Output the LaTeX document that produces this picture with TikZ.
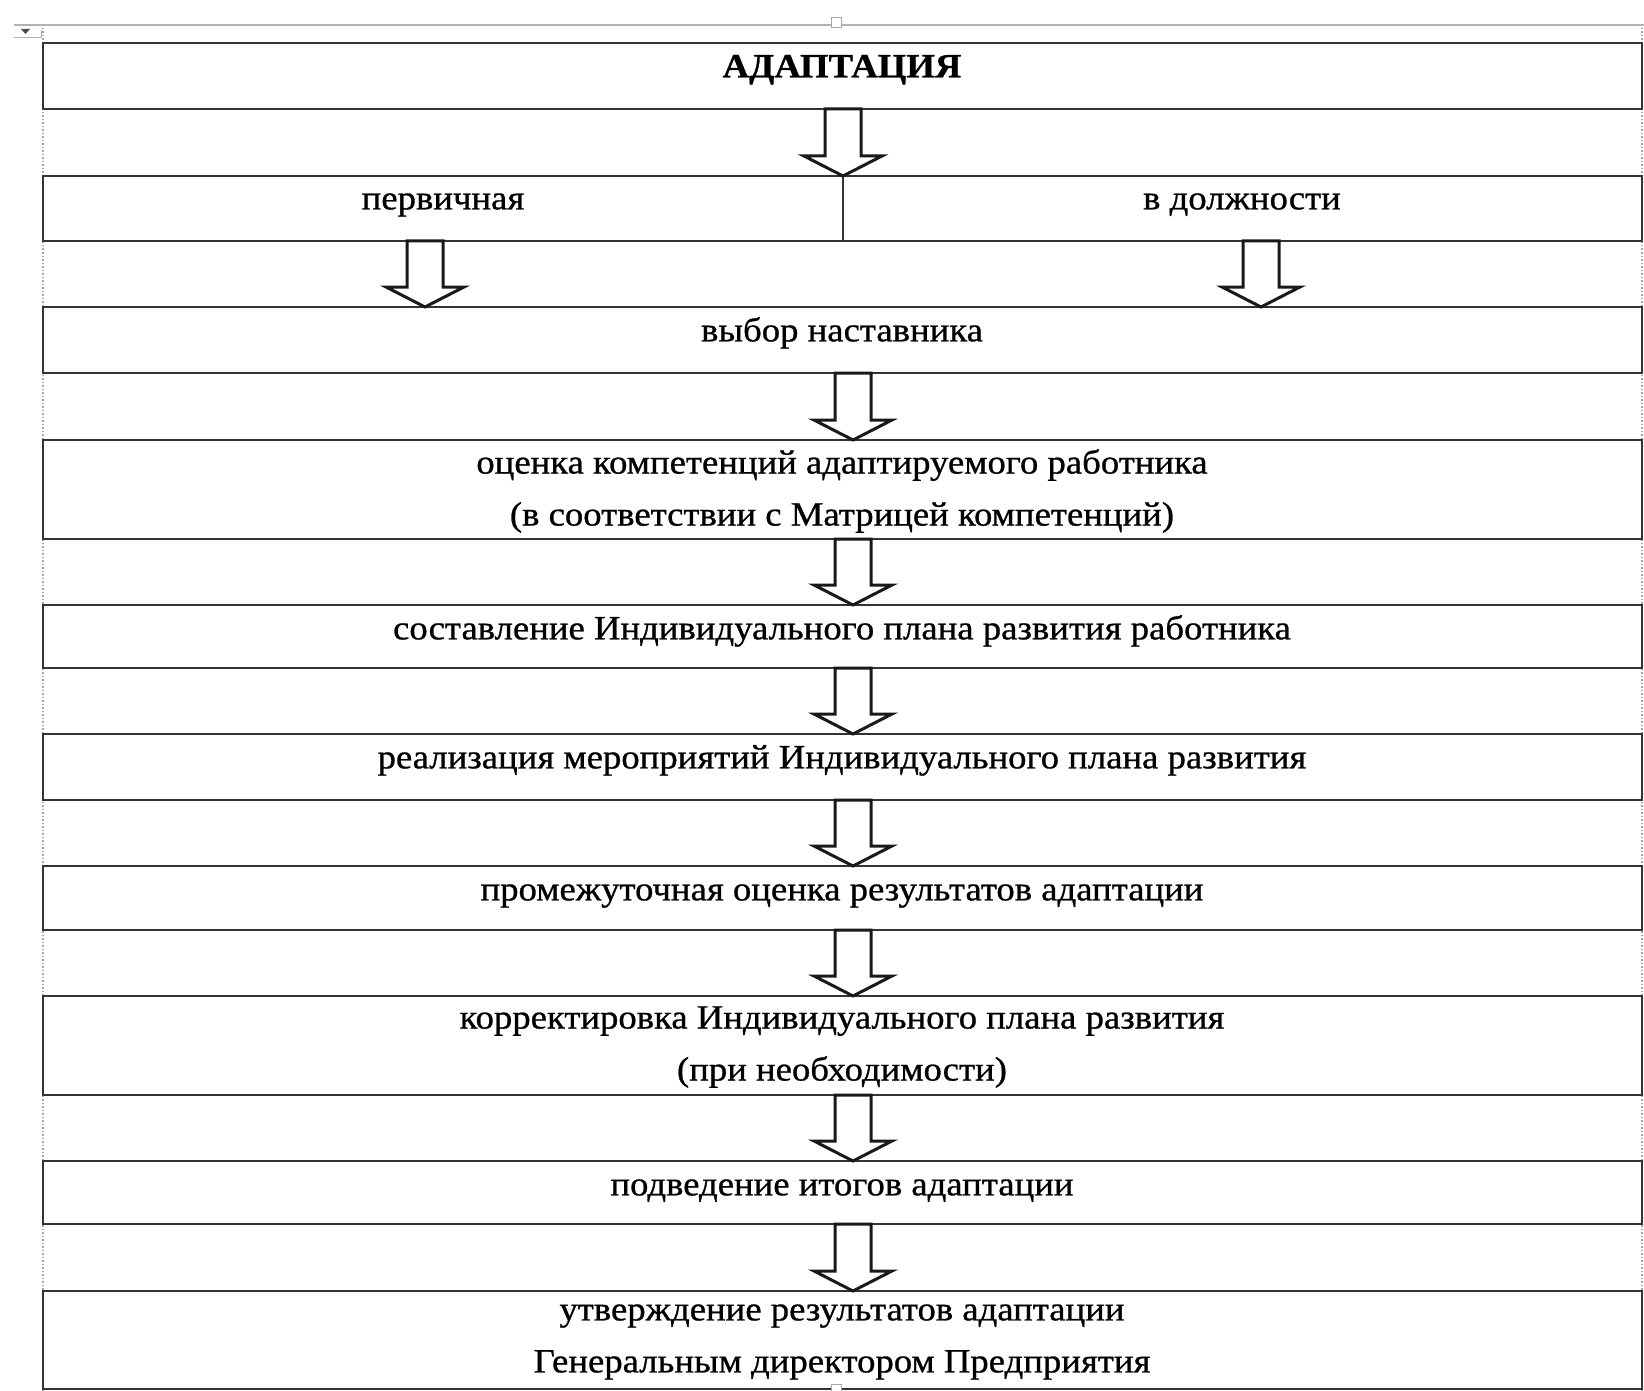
\documentclass[tikz,border=0pt]{standalone}
\usepackage{fontspec}
\setmainfont{Liberation Serif}[FakeStretch=1.08, FakeBold=0.8]
\usetikzlibrary{calc}

% block arrow from the bottom of one box down to the top of the next
\newcommand{\flowarrow}[3]{%
  \draw[blockarrow] let \p1=(#2.south), \p2=(#3.north) in
    (#1-18,\y1) -- (#1-18,\y2+20pt) -- (#1-39,\y2+20pt) -- (#1,\y2)
    -- (#1+39,\y2+20pt) -- (#1+18,\y2+20pt) -- (#1+18,\y1) -- cycle;}

\begin{document}
\begin{tikzpicture}[x=1pt, y=-1pt,
    stage/.style={draw=black!80, line width=2.6pt, fill=white, inner sep=0pt,
      outer sep=0pt, minimum width=1599pt},
    oneline/.style={font=\fontsize{34}{52}\selectfont, inner sep=0pt,
      text height=0.7em, text depth=0.23em},
    twolines/.style={font=\fontsize{34}{52}\selectfont, inner sep=0pt, align=center},
    blockarrow/.style={draw=black!90, line width=3pt, fill=white, line join=miter},
    guide/.style={draw=gray!70, line width=1.5pt, dotted},
    handle/.style={draw=gray!70, fill=white, line width=1pt, minimum size=10pt,
      inner sep=0pt}]

    \useasboundingbox (0,0) rectangle (1644,1391);

    % Word page marks
    \draw[gray!60, line width=1.5pt] (14,25) -- (1644,25);
    \draw[guide] (43,28) -- (43,1391);
    \draw[guide] (1642,28) -- (1642,1391);
    \fill[black!70] (21,29) -- (30,29) -- (25.5,34) -- cycle;
    \draw[gray!60, line width=1pt] (14,38) -- (41,38) -- (41,30);

    % Boxes
    \node[stage, minimum height=66pt] (b1) at (842.5,76) {};
    \node[stage, minimum height=65pt, minimum width=800pt] (b2l) at (443,208.5) {};
    \node[stage, minimum height=65pt, minimum width=799pt] (b2r) at (1242.5,208.5) {};
    \node[stage, minimum height=66pt] (b3) at (842.5,340) {};
    \node[stage, minimum height=99pt] (b4) at (842.5,489.5) {};
    \node[stage, minimum height=63pt] (b5) at (842.5,636.5) {};
    \node[stage, minimum height=66pt] (b6) at (842.5,767) {};
    \node[stage, minimum height=64pt] (b7) at (842.5,898) {};
    \node[stage, minimum height=99pt] (b8) at (842.5,1045.5) {};
    \node[stage, minimum height=63pt] (b9) at (842.5,1192.5) {};
    \node[stage, minimum height=98pt] (b10) at (842.5,1340) {};

    % Texts
    \node[oneline, font=\fontsize{34}{52}\selectfont\bfseries] (t1) at (842,75) {АДАПТАЦИЯ};
    \node[oneline] (t2l) at (443,207) {первичная};
    \node[oneline] (t2r) at (1242,207) {в должности};
    \node[oneline] (t3) at (842,339) {выбор наставника};
    \node[twolines] (t4) at (842,491) {оценка компетенций адаптируемого работника\\
      (в соответствии с Матрицей компетенций)};
    \node[oneline] (t5) at (842,637) {составление Индивидуального плана развития работника};
    \node[oneline] (t6) at (842,766) {реализация мероприятий Индивидуального плана развития};
    \node[oneline] (t7) at (842,898) {промежуточная оценка результатов адаптации};
    \node[twolines] (t8) at (842,1047) {корректировка Индивидуального плана развития\\
      (при необходимости)};
    \node[oneline] (t9) at (842,1193) {подведение итогов адаптации};
    \node[twolines] (t10) at (842,1342) {утверждение результатов адаптации\\
      Генеральным директором Предприятия};

    % Arrows
    \flowarrow{843}{b1}{b2l}
    \flowarrow{425}{b2l}{b3}
    \flowarrow{1261}{b2r}{b3}
    \flowarrow{853}{b3}{b4}
    \flowarrow{853}{b4}{b5}
    \flowarrow{853}{b5}{b6}
    \flowarrow{853}{b6}{b7}
    \flowarrow{853}{b7}{b8}
    \flowarrow{853}{b8}{b9}
    \flowarrow{853}{b9}{b10}

    % table handles
    \node[handle] (h1) at (836,23) {};
    \node[handle] (h2) at (836,1389) {};

\end{tikzpicture}
\end{document}
